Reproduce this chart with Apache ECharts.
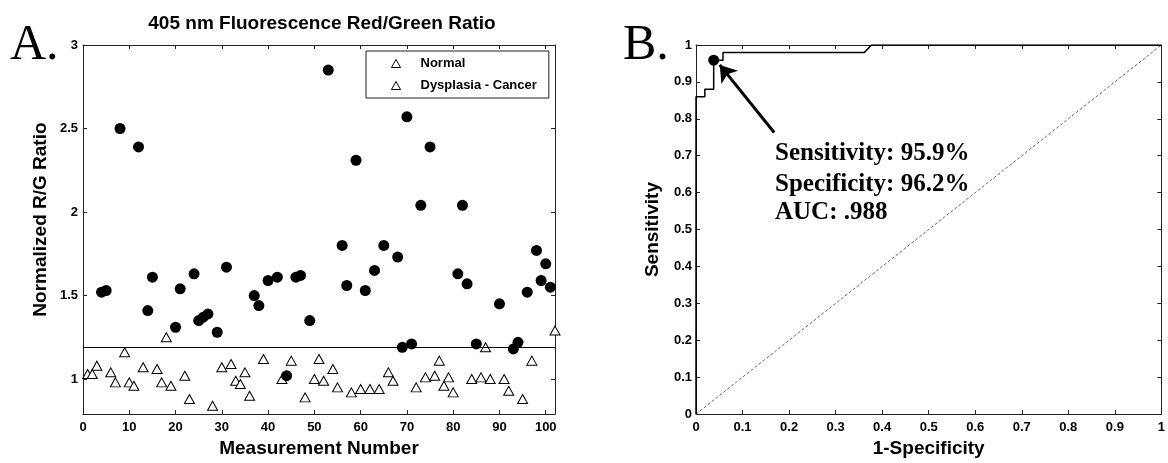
<!DOCTYPE html>
<html>
<head>
<meta charset="utf-8">
<title>405 nm Fluorescence Red/Green Ratio</title>
<script src="https://cdn.jsdelivr.net/npm/echarts@6/dist/echarts.min.js"></script>
<style>
  html, body { margin: 0; padding: 0; background: #fff; }
  #main { width: 1168px; height: 463px; }
</style>
</head>
<body>
<div id="main"></div>
<script>
// panel A: measurement number vs normalized R/G ratio
var normalX = [1, 2, 3, 6, 7, 9, 10, 11, 13, 16, 17, 18, 19, 22, 23, 28, 30, 32, 33, 34,
  35, 36, 39, 43, 45, 48, 50, 51, 52, 54, 55, 58, 60, 62, 64, 66, 67, 72, 74, 76,
  77, 78, 79, 80, 84, 86, 87, 88, 91, 92, 95, 97, 102];
var normalY = [1.03, 1.03, 1.08, 1.04, 0.98, 1.16, 0.98, 0.96, 1.07, 1.06, 0.98, 1.25, 0.96, 1.02, 0.88, 0.84, 1.07, 1.09, 0.99, 0.97,
  1.04, 0.90, 1.12, 1.00, 1.11, 0.89, 1.00, 1.12, 0.99, 1.06, 0.95, 0.92, 0.94, 0.94, 0.94, 1.04, 0.99, 0.95, 1.01, 1.02,
  1.11, 0.96, 1.01, 0.92, 1.00, 1.01, 1.19, 1.00, 1.00, 0.93, 0.88, 1.11, 1.29];
var cancerX = [4, 5, 8, 12, 14, 15, 20, 21, 24, 25, 26, 27, 29, 31, 37, 38, 40, 42, 44, 46,
  47, 49, 53, 56, 57, 59, 61, 63, 65, 68, 69, 70, 71, 73, 75, 81, 82, 83, 85, 90,
  93, 94, 96, 98, 99, 100, 101];
var cancerY = [1.52, 1.53, 2.50, 2.39, 1.41, 1.61, 1.31, 1.54, 1.63, 1.35, 1.37, 1.39, 1.28, 1.67, 1.50, 1.44, 1.59, 1.61, 1.02, 1.61,
  1.62, 1.35, 2.85, 1.80, 1.56, 2.31, 1.53, 1.65, 1.80, 1.73, 1.19, 2.57, 1.21, 2.04, 2.39, 1.63, 2.04, 1.57, 1.21, 1.45,
  1.18, 1.22, 1.52, 1.77, 1.59, 1.69, 1.55];
var threshold = 1.185;
var xTicksA = [0, 10, 20, 30, 40, 50, 60, 70, 80, 90, 100];
var yTicksA = [1, 1.5, 2, 2.5, 3];

// panel B: ROC curve
var rocFpr = [0, 0, 0.019, 0.019, 0.038, 0.038, 0.058, 0.058, 0.362, 0.377, 1];
var rocTpr = [0, 0.86, 0.86, 0.88, 0.88, 0.959, 0.959, 0.98, 0.98, 1, 1];
var cutPoint = [0.038, 0.959];
var arrowFrom = [0.168, 0.763];
var arrowTo = [0.051, 0.946];
var statLines = ['Sensitivity: 95.9%', 'Specificity: 96.2%', 'AUC: .988'];

var sans = 'Liberation Sans';
var serif = 'Liberation Serif';

function zip(a, b) {
  return a.map(function (v, i) { return [v, b[i]]; });
}

function frameAxis(opts) {
  var ax = {
    type: 'value',
    splitLine: { show: false },
    axisLine: { show: true, onZero: false, lineStyle: { color: '#222', width: 1 } },
    axisTick: { show: true, inside: true, length: 4, lineStyle: { color: '#222' } },
    axisLabel: { show: true, color: '#000', fontFamily: sans, fontWeight: 'bold', fontSize: 13 },
    nameTextStyle: { color: '#000', fontFamily: sans, fontWeight: 'bold', fontSize: 19 }
  };
  for (var k in opts) {
    if (typeof opts[k] === 'object' && ax[k] && !Array.isArray(opts[k])) {
      ax[k] = Object.assign({}, ax[k], opts[k]);
    } else {
      ax[k] = opts[k];
    }
  }
  return ax;
}

var hollow = { color: '#fff', borderColor: '#000', borderWidth: 1, opacity: 1 };

var chart = echarts.init(document.getElementById('main'));

var option = {
  animation: false,
  backgroundColor: '#fff',
  title: [{
    text: '405 nm Fluorescence Red/Green Ratio',
    left: 317, top: 9, textAlign: 'center',
    textStyle: { fontFamily: sans, fontWeight: 'bold', fontSize: 19, color: '#000' }
  }],
  legend: {
    orient: 'vertical',
    left: 366, top: 51,
    padding: [6, 12, 6, 25],
    itemGap: 9,
    itemWidth: 9, itemHeight: 8,
    backgroundColor: '#fff',
    borderColor: '#222', borderWidth: 1, borderRadius: 0,
    textStyle: { fontFamily: sans, fontWeight: 'bold', fontSize: 13, color: '#000', padding: [0, 0, 0, 15] },
    data: [
      { name: 'Normal', icon: 'triangle', itemStyle: hollow },
      { name: 'Dysplasia - Cancer', icon: 'triangle', itemStyle: hollow }
    ]
  },
  grid: [
    { left: 83, top: 45, width: 472, height: 373 },
    { left: 696, top: 45, width: 471, height: 372 }
  ],
  xAxis: [
    frameAxis({ gridIndex: 0, min: 0, max: 102, position: 'bottom',
      axisLabel: { customValues: xTicksA, margin: 7 }, axisTick: { customValues: xTicksA },
      name: 'Measurement Number', nameLocation: 'middle', nameGap: 24 }),
    frameAxis({ gridIndex: 0, min: 0, max: 102, position: 'top',
      axisLabel: { show: false }, axisTick: { customValues: xTicksA } }),
    frameAxis({ gridIndex: 1, min: 0, max: 1, interval: 0.1, position: 'bottom',
      axisLabel: { margin: 7 },
      name: '1-Specificity', nameLocation: 'middle', nameGap: 24 }),
    frameAxis({ gridIndex: 1, min: 0, max: 1, interval: 0.1, position: 'top',
      axisLabel: { show: false } })
  ],
  yAxis: [
    frameAxis({ gridIndex: 0, min: 0.79, max: 3, position: 'left',
      axisLabel: { customValues: yTicksA, margin: 5 }, axisTick: { customValues: yTicksA },
      name: 'Normalized R/G Ratio', nameLocation: 'middle', nameGap: 33,
      nameTextStyle: { padding: [0, 0, 0, 20] } }),
    frameAxis({ gridIndex: 0, min: 0.79, max: 3, position: 'right',
      axisLabel: { show: false }, axisTick: { customValues: yTicksA } }),
    frameAxis({ gridIndex: 1, min: 0, max: 1, interval: 0.1, position: 'left',
      axisLabel: { margin: 4 },
      name: 'Sensitivity', nameLocation: 'middle', nameGap: 34 }),
    frameAxis({ gridIndex: 1, min: 0, max: 1, interval: 0.1, position: 'right',
      axisLabel: { show: false } })
  ],
  series: [
    {
      name: 'Normal', type: 'scatter', xAxisIndex: 0, yAxisIndex: 0,
      symbol: 'triangle', symbolSize: [10, 9],
      itemStyle: hollow,
      data: zip(normalX, normalY),
      markLine: {
        silent: true, symbol: 'none', label: { show: false },
        lineStyle: { color: '#000', width: 1, type: 'solid' },
        data: [{ yAxis: threshold }]
      }
    },
    {
      name: 'Dysplasia - Cancer', type: 'scatter', xAxisIndex: 0, yAxisIndex: 0,
      symbol: 'circle', symbolSize: 11,
      itemStyle: { color: '#000', opacity: 1 },
      data: zip(cancerX, cancerY)
    },
    {
      name: 'chance', type: 'line', xAxisIndex: 2, yAxisIndex: 2,
      symbol: 'none', silent: true,
      lineStyle: { color: '#444', width: 0.8, type: [3, 2] },
      data: [[0, 0], [1, 1]]
    },
    {
      name: 'ROC', type: 'line', xAxisIndex: 2, yAxisIndex: 2,
      symbol: 'none', silent: true,
      lineStyle: { color: '#000', width: 1.5 },
      data: zip(rocFpr, rocTpr),
      markLine: {
        silent: true, symbol: ['none', 'arrow'], symbolSize: 16, label: { show: false },
        lineStyle: { color: '#000', width: 3, type: 'solid' },
        data: [[{ coord: arrowFrom }, { coord: arrowTo }]]
      }
    },
    {
      name: 'cutoff', type: 'scatter', xAxisIndex: 2, yAxisIndex: 2,
      symbol: 'circle', symbolSize: 11, itemStyle: { color: '#000', opacity: 1 },
      data: [cutPoint]
    }
  ],
  graphic: [
    { type: 'text', x: 10, y: 46, style: { text: 'A.', fontFamily: serif, fontSize: 50, fill: '#000', verticalAlign: 'middle' } },
    { type: 'text', x: 623, y: 46, style: { text: 'B.', fontFamily: serif, fontSize: 50, fill: '#000', verticalAlign: 'middle' } },
    { type: 'text', x: 775, y: 154, style: { text: statLines[0], fontFamily: serif, fontWeight: 'bold', fontSize: 25, fill: '#000', verticalAlign: 'middle' } },
    { type: 'text', x: 775, y: 185, style: { text: statLines[1], fontFamily: serif, fontWeight: 'bold', fontSize: 25, fill: '#000', verticalAlign: 'middle' } },
    { type: 'text', x: 775, y: 213, style: { text: statLines[2], fontFamily: serif, fontWeight: 'bold', fontSize: 25, fill: '#000', verticalAlign: 'middle' } }
  ]
};

chart.setOption(option);
</script>
</body>
</html>
